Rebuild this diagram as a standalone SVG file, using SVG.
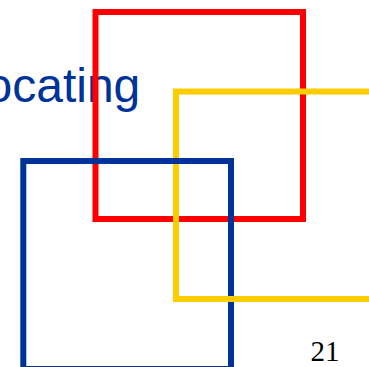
<svg xmlns="http://www.w3.org/2000/svg" width="369" height="367" viewBox="0 0 369 367">
<style>
.sq{fill:none;stroke-width:6;stroke-linecap:square}
.red{stroke:#FF0000}
.yel{stroke:#FFCC00}
.blu{stroke:#003399}
.title{font-family:"Liberation Sans",Arial,sans-serif;font-size:48px;fill:#003399}
.num{font-family:"Liberation Serif","Times New Roman",serif;font-size:29px;fill:#000000}
</style>
<rect width="369" height="367" fill="#FFFFFF"/>
<g id="title"><text class="title" x="-14.5" y="101.5">ocating</text></g>
<g id="red-square"><rect class="sq red" x="95.5" y="12" width="207.5" height="207"/></g>
<g id="yellow-square"><path class="sq yel" d="M176,299 V91.5 H386 M386,91.5 V299"/></g>
<g id="blue-square"><rect class="sq blu" x="23.3" y="161" width="207.7" height="208"/></g>
<g id="yellow-square-bottom"><path class="sq yel" d="M176,299 H386"/></g>
<g id="page-number"><text class="num" x="310.5" y="361">21</text></g>
</svg>
